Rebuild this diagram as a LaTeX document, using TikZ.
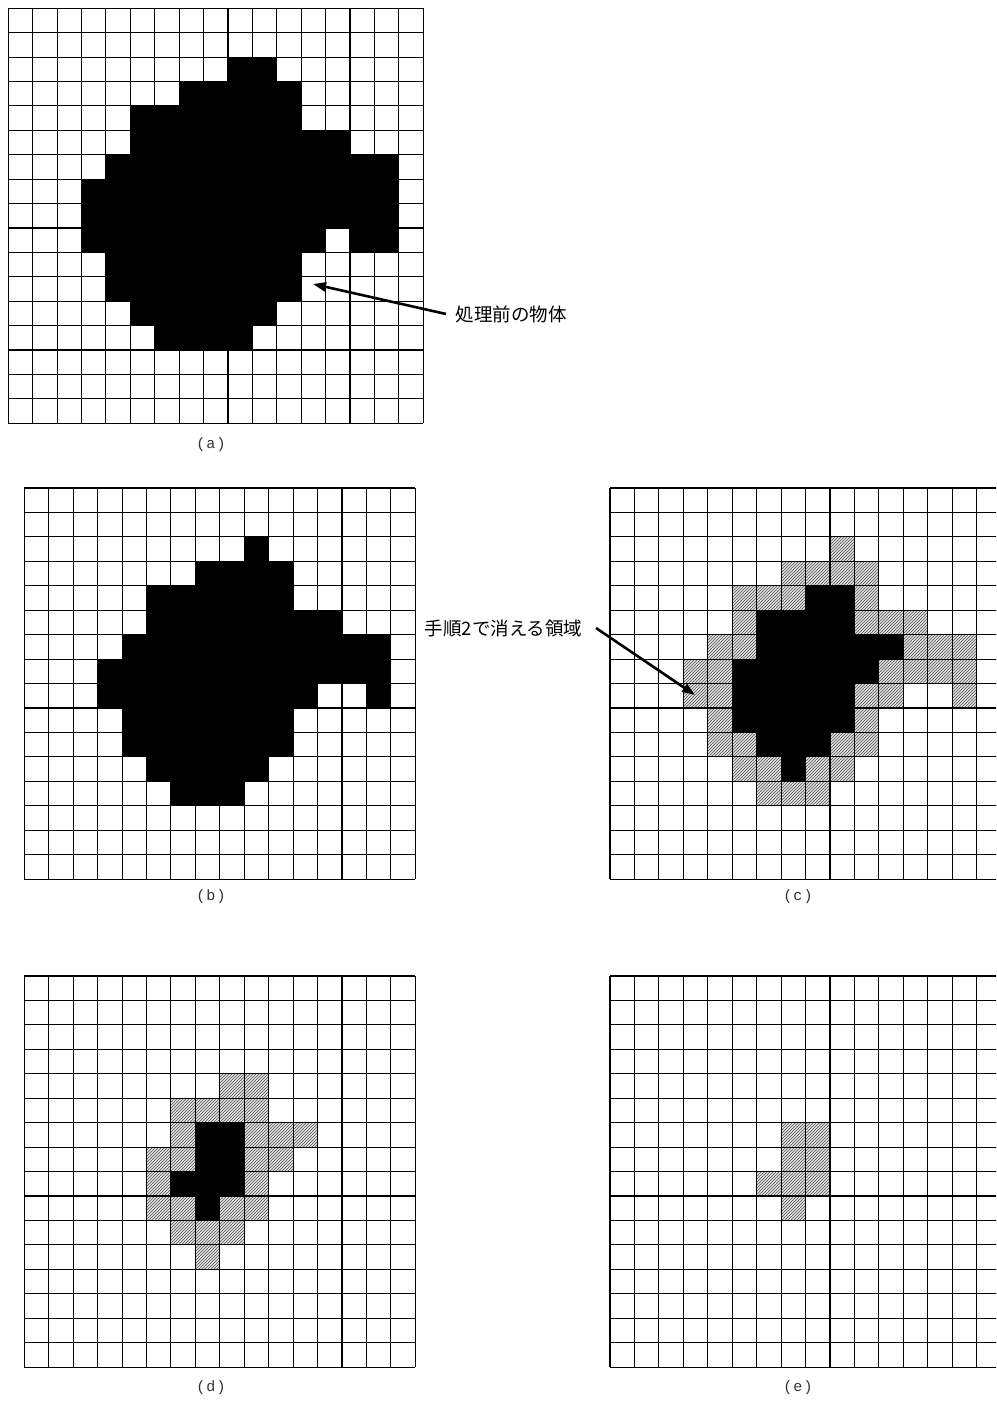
\documentclass[tikz,border=0pt]{standalone}
\usepackage{fontspec}
\newfontfamily\jpfont{Noto Sans CJK JP}
\newfontfamily\capfont[LetterSpace=8]{Liberation Mono}
\usetikzlibrary{patterns,arrows.meta}
\begin{document}
\begin{tikzpicture}[x=1pt,y=-1pt,
  gridline/.style={line width=1.1pt, draw=black, line cap=square},
  blk/.style={fill=black},
  hat/.style={fill=gray!25, postaction={pattern=north east lines, pattern color=black!65}},
  captext/.style={font=\capfont\fontsize{15}{15}\selectfont, text=black!80},
  jlabel/.style={font=\jpfont\fontsize{18.5}{18.5}\selectfont},
  arr/.style={line width=2.6pt, -{Triangle[length=13pt,width=9pt]}}]
\clip (0,0) rectangle (996,1402);
\fill[white] (0,0) rectangle (996,1402);

% (a)
\begin{scope}[shift={(8.3,8.3)},x=24.41pt,y=-24.41pt]
  \foreach \r/\a/\b in {2/9/10, 3/7/11, 4/5/11, 5/5/13, 6/4/15, 7/3/15, 8/3/15, 9/3/12, 9/14/15, 10/4/11, 11/4/11, 12/5/10, 13/6/9}
    {\fill[blk] (\a,\r) rectangle (\b+1,\r+1);}
  \foreach \i in {0,...,17} {\draw[gridline] (\i,0) -- (\i,17); \draw[gridline] (0,\i) -- (17,\i);}
\end{scope}

% (b)
\begin{scope}[shift={(24.3,488)},x=24.44pt,y=-24.44pt]
  \foreach \r/\a/\b in {2/9/9, 3/7/10, 4/5/10, 5/5/12, 6/4/14, 7/3/14, 8/3/11, 8/14/14, 9/4/10, 10/4/10, 11/5/9, 12/6/8}
    {\fill[blk] (\a,\r) rectangle (\b+1,\r+1);}
  \foreach \i in {0,...,16} {\draw[gridline] (\i,0) -- (\i,16); \draw[gridline] (0,\i) -- (16,\i);}
\end{scope}

% (c)
\begin{scope}[shift={(610,488)},x=24.44pt,y=-24.44pt]
  \foreach \r/\a/\b in {2/9/9, 3/7/10, 4/5/10, 5/5/12, 6/4/14, 7/3/14, 8/3/11, 8/14/14, 9/4/10, 10/4/10, 11/5/9, 12/6/8}
    {\fill[hat] (\a,\r) rectangle (\b+1,\r+1);}
  \foreach \r/\a/\b in {4/8/9, 5/6/9, 6/6/11, 7/5/10, 8/5/9, 9/5/9, 10/6/8, 11/7/7}
    {\fill[blk] (\a,\r) rectangle (\b+1,\r+1);}
  \foreach \i in {0,...,16} {\draw[gridline] (\i,0) -- (\i,16); \draw[gridline] (0,\i) -- (16,\i);}
\end{scope}

% (d)
\begin{scope}[shift={(24.3,976)},x=24.44pt,y=-24.44pt]
  \foreach \r/\a/\b in {4/8/9, 5/6/9, 6/6/11, 7/5/10, 8/5/9, 9/5/9, 10/6/8, 11/7/7}
    {\fill[hat] (\a,\r) rectangle (\b+1,\r+1);}
  \foreach \r/\a/\b in {6/7/8, 7/7/8, 8/6/8, 9/7/7}
    {\fill[blk] (\a,\r) rectangle (\b+1,\r+1);}
  \foreach \i in {0,...,16} {\draw[gridline] (\i,0) -- (\i,16); \draw[gridline] (0,\i) -- (16,\i);}
\end{scope}

% (e)
\begin{scope}[shift={(610,976)},x=24.44pt,y=-24.44pt]
  \foreach \r/\a/\b in {6/7/8, 7/7/8, 8/6/8, 9/7/7}
    {\fill[hat] (\a,\r) rectangle (\b+1,\r+1);}
  \foreach \i in {0,...,16} {\draw[gridline] (\i,0) -- (\i,16); \draw[gridline] (0,\i) -- (16,\i);}
\end{scope}

% captions
\node[captext] (capa) at (211,445) {(a)};
\node[captext] (capb) at (211,897) {(b)};
\node[captext] (capc) at (798,897) {(c)};
\node[captext] (capd) at (211,1388) {(d)};
\node[captext] (cape) at (798,1388) {(e)};

% annotations
\node[jlabel, anchor=west] (t1) at (452,314) {処理前の物体};
\coordinate (tip1) at (313,284);
\draw[arr] ([xshift=-6pt]t1.west) -- (tip1);

\node[jlabel, anchor=east] (t2) at (586,628) {手順2で消える領域};
\coordinate (tip2) at (695,695);
\draw[arr] ([xshift=10pt]t2.east) -- (tip2);
\end{tikzpicture}
\end{document}
